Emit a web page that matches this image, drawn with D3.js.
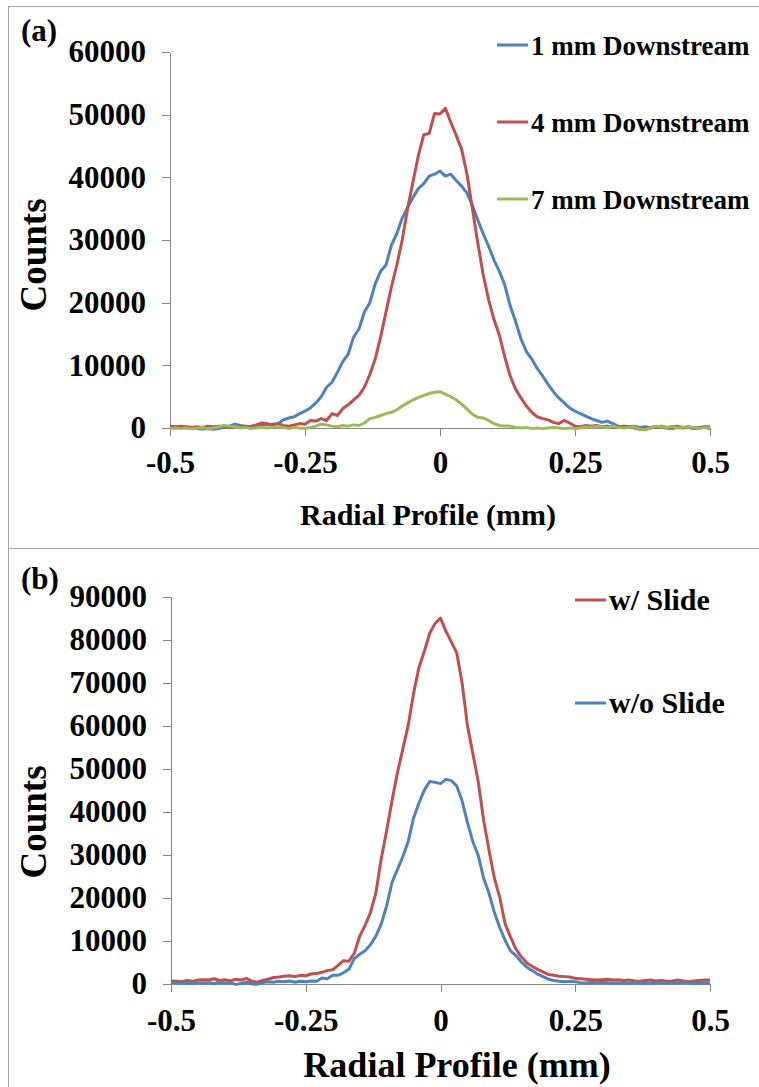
<!DOCTYPE html>
<html>
<head>
<meta charset="utf-8">
<script src="https://cdn.jsdelivr.net/npm/d3@7"></script>
<style>
	body { margin: 0; background: #fff; }
	svg { display: block; }
	text { font-family: "Liberation Serif", "Times New Roman", serif; font-weight: bold; fill: #000; }
	.axis path, .axis line { stroke: #868686; stroke-width: 1; shape-rendering: crispEdges; }
	.axis text { font-family: "Liberation Serif", "Times New Roman", serif; font-weight: bold; font-size: 31px; fill: #000; }
</style>
</head>
<body>
<div id="viz"></div>
<script>
// radial positions (mm), sampled every 0.01 mm
var radial = d3.range(-50, 51).map(function(i) { return i / 100; });

var xTickValues = [-0.5, -0.25, 0, 0.25, 0.5];
var xTickLabels = ["-0.5", "-0.25", "0", "0.25", "0.5"];
var yTicksA = [0, 10000, 20000, 30000, 40000, 50000, 60000];
var yTicksB = [0, 10000, 20000, 30000, 40000, 50000, 60000, 70000, 80000, 90000];

// panel (a)
var namesA = ["1 mm Downstream", "4 mm Downstream", "7 mm Downstream"];
var down1mm = [200,150,100,150,50,-100,-150,-100,-200,-100,
	100,300,600,400,300,200,400,600,500,600,
	700,1300,1600,1800,2300,2700,3200,4000,5000,6500,
	7300,8900,10600,11800,14500,15800,18500,20000,23000,25000,
	26000,29200,31000,33500,35200,36800,38200,39000,40200,40500,
	41000,40200,40500,39500,38600,37500,35500,33200,31000,29000,
	26800,25000,22800,19500,17000,14200,12200,11000,9500,8300,
	7000,5800,4800,4000,3200,2700,2300,1900,1500,1200,
	900,1100,700,300,100,200,300,100,200,0,
	200,300,100,200,300,100,200,0,100,200,200];
var down4mm = [300,200,300,200,100,200,100,300,200,300,
	200,100,200,300,200,300,500,800,700,500,
	700,400,300,500,700,600,1200,1100,1500,1200,
	2300,2000,3100,3700,4500,5200,6500,8500,11000,14500,
	18500,22500,26000,30000,35000,39300,43500,46800,47000,50200,
	50100,51000,48800,46700,44500,40500,35000,29500,24500,20500,
	17300,14800,11300,8300,6200,4800,3500,2500,1800,1500,
	1300,900,700,1200,800,300,200,400,300,400,
	200,300,100,200,300,200,0,-200,-100,100,
	200,100,0,-100,100,0,100,-100,0,100,-100];
var down7mm = [-100,0,-100,0,-100,0,100,-100,0,200,
	400,300,200,0,100,-100,0,100,0,100,
	200,100,-100,100,0,-100,100,300,600,500,
	300,200,400,300,500,400,800,1500,1700,2000,
	2300,2500,2900,3500,4000,4500,4900,5200,5500,5700,
	5800,5400,5000,4500,3800,3000,2200,1700,1600,1200,
	700,400,300,300,100,0,100,-100,0,-100,
	0,100,0,-100,0,-100,0,200,100,300,
	200,100,300,100,0,100,200,-200,-300,0,
	300,200,100,200,0,100,200,100,-100,100,0];

// panel (b)
var namesB = ["w/ Slide", "w/o Slide"];
var withSlide = [600,500,400,700,500,800,900,800,1100,700,
	900,600,1000,800,1200,500,300,700,1000,1400,
	1500,1700,1800,1600,1900,1800,2200,2300,2600,3000,
	3200,4200,5300,5200,7000,11000,13500,16500,21000,29000,
	35500,42500,49000,54500,60000,67500,73500,77300,81500,83800,
	85000,82000,79500,77000,70000,60000,53500,47000,38000,31000,
	24500,20000,13800,10800,8000,6200,4800,4000,3300,2700,
	2100,1900,1700,1600,1500,1200,1100,1000,900,800,
	900,1000,800,900,700,800,600,500,700,800,
	600,700,500,600,800,600,400,600,700,800,800];
var withoutSlide = [300,100,200,100,0,200,100,200,0,300,
	100,200,-200,0,300,-100,-200,200,400,300,
	500,400,600,300,500,400,600,500,1300,1100,
	1900,1900,2500,3300,5800,6800,7600,9000,11000,13800,
	18000,23500,26500,29500,33000,38500,42000,45000,47000,46800,
	46500,47500,47200,46000,42500,37500,33000,29800,24500,21000,
	16500,13000,10000,7600,6500,5000,3800,3000,2200,1600,
	1000,700,500,400,500,400,200,100,300,200,
	300,200,100,200,100,0,200,100,0,100,
	200,300,100,200,100,200,300,0,100,200,100];

var blue = "#4F81BD", red = "#C0504D", green = "#9BBB59";

var svg = d3.select("#viz").append("svg").attr("width", 759).attr("height", 1087);

// panel frames
svg.append("rect").attr("x", 8.5).attr("y", 6.5).attr("width", 770).attr("height", 542)
	.attr("fill", "none").attr("stroke", "#a6a6a6");
svg.append("rect").attr("x", 8.5).attr("y", 548.5).attr("width", 770).attr("height", 560)
	.attr("fill", "none").attr("stroke", "#a6a6a6");

function drawPanel(opt) {
	var g = svg.append("g");
	var x = d3.scaleLinear().domain([-0.5, 0.5]).range([opt.left, opt.right]);
	var y = d3.scaleLinear().domain([0, opt.ymax]).range([opt.bottom, opt.top]);

	var yAxis = d3.axisLeft(y).tickValues(opt.yTicks).tickSize(8).tickPadding(16).tickSizeOuter(0)
		.tickFormat(function(d) { return d; });
	g.append("g").attr("class", "axis").attr("transform", "translate(" + opt.left + ",0)").call(yAxis);

	var xAxis = d3.axisBottom(x).tickValues(xTickValues).tickSize(8).tickPadding(opt.xPad).tickSizeOuter(0)
		.tickFormat(function(d, i) { return xTickLabels[i]; });
	g.append("g").attr("class", "axis").attr("transform", "translate(0," + opt.bottom + ")").call(xAxis);

	var line = d3.line().x(function(d) { return x(d[0]); }).y(function(d) { return y(d[1]); });
	opt.series.forEach(function(s) {
		g.append("path")
			.datum(radial.map(function(r, i) { return [r, s.values[i]]; }))
			.attr("fill", "none").attr("stroke", s.color).attr("stroke-width", 3)
			.attr("stroke-linejoin", "round").attr("d", line);
	});

	// legend
	opt.series.forEach(function(s, i) {
		var ly = opt.legendY[i];
		g.append("line").attr("x1", opt.legendX).attr("x2", opt.legendX + 31)
			.attr("y1", ly).attr("y2", ly).attr("stroke", s.color).attr("stroke-width", 3);
		g.append("text").attr("x", opt.legendX + 34).attr("y", ly + 10)
			.style("font-size", opt.legendSize + "px").text(s.name);
	});

	g.append("text").attr("x", 21).attr("y", opt.labelY).style("font-size", "31px").text(opt.label);

	g.append("text").attr("transform", "translate(46," + opt.countsY + ") rotate(-90)")
		.attr("text-anchor", "middle").style("font-size", "37px").text("Counts");

	g.append("text").attr("x", opt.titleX).attr("y", opt.titleY).attr("text-anchor", "middle")
		.style("font-size", opt.titleSize + "px").text("Radial Profile (mm)");
}

drawPanel({
	left: 170, right: 710, top: 52, bottom: 428, ymax: 60000, yTicks: yTicksA, xPad: 15,
	series: [
		{ name: namesA[0], color: blue, values: down1mm },
		{ name: namesA[1], color: red, values: down4mm },
		{ name: namesA[2], color: green, values: down7mm }
	],
	legendX: 497, legendY: [45, 122, 199], legendSize: 27,
	label: "(a)", labelY: 41, countsY: 255,
	titleX: 428, titleY: 525, titleSize: 30
});

drawPanel({
	left: 171, right: 710, top: 596.7, bottom: 983.5, ymax: 90000, yTicks: yTicksB, xPad: 17,
	series: [
		{ name: namesB[0], color: red, values: withSlide },
		{ name: namesB[1], color: blue, values: withoutSlide }
	],
	legendX: 575, legendY: [600, 703], legendSize: 30,
	label: "(b)", labelY: 589, countsY: 822,
	titleX: 457, titleY: 1077, titleSize: 36
});
</script>
</body>
</html>
